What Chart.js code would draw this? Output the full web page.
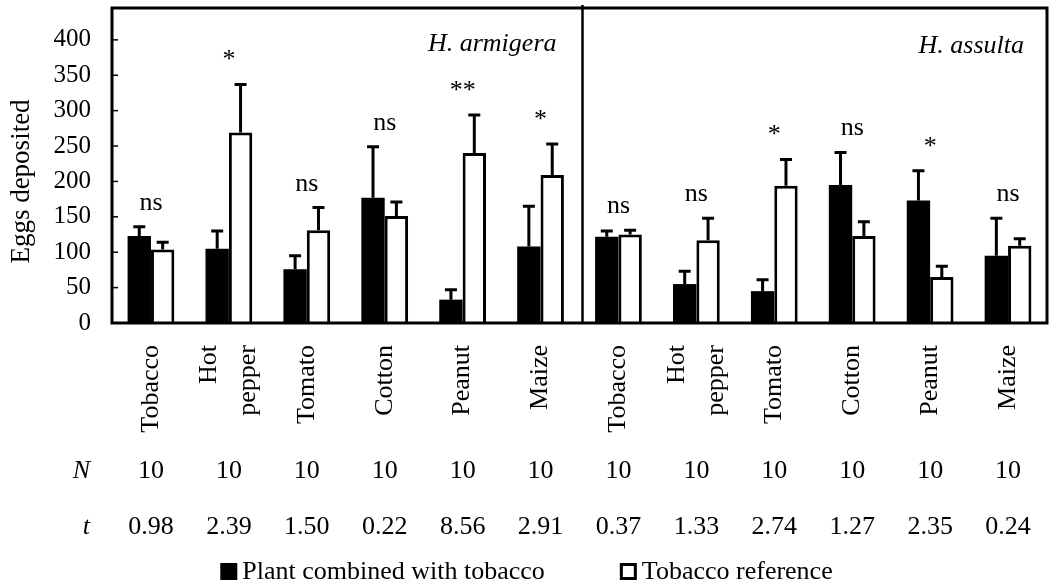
<!DOCTYPE html>
<html>
<head>
<meta charset="utf-8">
<script src="https://cdn.jsdelivr.net/npm/chart.js@4.4.0/dist/chart.umd.min.js"></script>
<style>
  html, body { margin: 0; padding: 0; background: #fff; }
  #wrap { width: 1053px; height: 586px; }
</style>
</head>
<body>
<div id="wrap"><canvas id="chart"></canvas></div>
<script>
// plant tested with tobacco, left half H. armigera, right half H. assulta
const categories = ['Tobacco', ['Hot', 'pepper'], 'Tomato', 'Cotton', 'Peanut', 'Maize',
                    'Tobacco', ['Hot', 'pepper'], 'Tomato', 'Cotton', 'Peanut', 'Maize'];
const species = ['H. armigera', 'H. assulta'];

const combined    = [123, 105, 76, 177, 33, 108, 122, 55, 45, 195, 173, 95];
const combinedSE  = [13, 25, 19, 72, 14, 57, 8, 18, 16, 46, 42, 53];
const reference   = [104, 269, 131, 151, 240, 209, 125, 117, 194, 123, 65, 109];
const referenceSE = [10, 68, 32, 20, 54, 44, 6, 31, 37, 20, 15, 10];

const signif  = ['ns', '*', 'ns', 'ns', '**', '*', 'ns', 'ns', '*', 'ns', '*', 'ns'];
const nValues = [10, 10, 10, 10, 10, 10, 10, 10, 10, 10, 10, 10];
const tValues = ['0.98', '2.39', '1.50', '0.22', '8.56', '2.91', '0.37', '1.33', '2.74', '1.27', '2.35', '0.24'];

const yMax = 445;
const yStep = 50;
const yTitle = 'Eggs deposited';

const FONT = "'Liberation Serif', 'Times New Roman', serif";

const figureDecor = {
  id: 'figureDecor',
  afterDatasetsDraw(chart) {
    const { ctx, chartArea: a, scales: { x, y } } = chart;
    ctx.save();
    ctx.strokeStyle = '#000';
    ctx.fillStyle = '#000';

    // error bars (upper only)
    ctx.lineWidth = 3;
    [combinedSE, referenceSE].forEach((se, d) => {
      const values = chart.data.datasets[d].data;
      chart.getDatasetMeta(d).data.forEach((bar, i) => {
        const top = y.getPixelForValue(values[i] + se[i]);
        ctx.beginPath();
        ctx.moveTo(bar.x, bar.y);
        ctx.lineTo(bar.x, top);
        ctx.moveTo(bar.x - 6, top);
        ctx.lineTo(bar.x + 6, top);
        ctx.stroke();
      });
    });

    // frame + divider between the two species
    ctx.lineWidth = 3;
    ctx.strokeRect(a.left, a.top, a.right - a.left, a.bottom - a.top);
    const split = x.getPixelForValue(5.5) + 3;
    ctx.lineWidth = 2.5;
    ctx.beginPath();
    ctx.moveTo(split, a.top - 3);
    ctx.lineTo(split, a.bottom);
    ctx.stroke();

    // inward y ticks
    ctx.lineWidth = 1.5;
    y.ticks.forEach(t => {
      const py = y.getPixelForValue(t.value);
      ctx.beginPath();
      ctx.moveTo(a.left, py);
      ctx.lineTo(a.left + 6, py);
      ctx.stroke();
    });

    // y title, a bit below the middle like the original
    ctx.save();
    ctx.font = '27px ' + FONT;
    ctx.textAlign = 'center';
    ctx.textBaseline = 'middle';
    ctx.translate(22, (a.top + a.bottom) / 2 + 16);
    ctx.rotate(-Math.PI / 2);
    ctx.fillText(yTitle, 0, 0);
    ctx.restore();

    // significance marks
    ctx.font = '26px ' + FONT;
    ctx.textAlign = 'center';
    ctx.textBaseline = 'alphabetic';
    signif.forEach((s, i) => {
      const hi = Math.max(combined[i] + combinedSE[i], reference[i] + referenceSE[i]);
      ctx.fillText(s, x.getPixelForValue(i), y.getPixelForValue(hi) - 17);
    });

    // species names
    ctx.font = 'italic 26px ' + FONT;
    ctx.textAlign = 'right';
    ctx.fillText(species[0], split - 26, a.top + 43);
    ctx.fillText(species[1], a.right - 23, a.top + 45);

    // category labels, rotated
    ctx.font = '26px ' + FONT;
    categories.forEach((label, i) => {
      const lines = [].concat(label);
      const cx = x.getPixelForValue(i);
      lines.forEach((line, j) => {
        ctx.save();
        ctx.translate(cx + (j - (lines.length - 1) / 2) * 39, a.bottom + 22);
        ctx.rotate(-Math.PI / 2);
        ctx.textAlign = 'right';
        ctx.textBaseline = 'middle';
        ctx.fillText(line, 0, 0);
        ctx.restore();
      });
    });

    // N and t rows
    const rows = [['N', nValues, a.bottom + 148], ['t', tValues, a.bottom + 204]];
    rows.forEach(([name, vals, py]) => {
      ctx.textBaseline = 'middle';
      ctx.font = 'italic 26px ' + FONT;
      ctx.textAlign = 'right';
      ctx.fillText(name, 90, py);
      ctx.font = '26px ' + FONT;
      ctx.textAlign = 'center';
      vals.forEach((v, i) => ctx.fillText(String(v), x.getPixelForValue(i), py));
    });

    // legend
    ctx.font = '26px ' + FONT;
    ctx.textAlign = 'left';
    ctx.textBaseline = 'middle';
    const names = chart.data.datasets.map(ds => ds.label);
    const box = 17, gap = 5, between = 75;
    const widths = names.map(n => ctx.measureText(n).width);
    const total = widths.reduce((s, w) => s + box + gap + w, 0) + between;
    let lx = chart.width / 2 - total / 2;
    const ly = 571;
    names.forEach((n, k) => {
      if (k === 0) {
        ctx.fillRect(lx, ly - 8, box, box);
      } else {
        ctx.lineWidth = 3;
        ctx.strokeRect(lx + 1.5, ly - 6.5, box - 3, box - 3);
      }
      ctx.fillText(n, lx + box + gap, ly + 1);
      lx += box + gap + widths[k] + between;
    });

    ctx.restore();
  }
};

new Chart(document.getElementById('chart'), {
  type: 'bar',
  data: {
    labels: categories,
    datasets: [
      {
        label: 'Plant combined with tobacco',
        data: combined,
        backgroundColor: '#000',
        borderWidth: 0,
        categoryPercentage: 0.6,
        barPercentage: 1
      },
      {
        label: 'Tobacco reference',
        data: reference,
        backgroundColor: '#fff',
        borderColor: '#000',
        borderWidth: 3,
        categoryPercentage: 0.6,
        barPercentage: 1
      }
    ]
  },
  options: {
    responsive: true,
    maintainAspectRatio: false,
    animation: false,
    layout: { padding: { top: 8, right: 6, bottom: 0, left: 0 } },
    plugins: {
      legend: { display: false },
      tooltip: { enabled: false }
    },
    scales: {
      x: {
        grid: { display: false, drawTicks: false },
        border: { display: false },
        ticks: { display: false },
        afterFit(scale) {
          scale.height = 263;
          scale.paddingLeft = 0;
          scale.paddingRight = 0;
        }
      },
      y: {
        min: 0,
        max: yMax,
        grid: { display: false, drawTicks: false },
        border: { display: false },
        ticks: {
          stepSize: yStep,
          includeBounds: false,
          padding: 21,
          color: '#000',
          font: { family: FONT, size: 25 }
        },
        afterFit(scale) {
          scale.width = 112;
          scale.paddingTop = 0;
          scale.paddingBottom = 0;
        }
      }
    }
  },
  plugins: [figureDecor]
});
</script>
</body>
</html>
